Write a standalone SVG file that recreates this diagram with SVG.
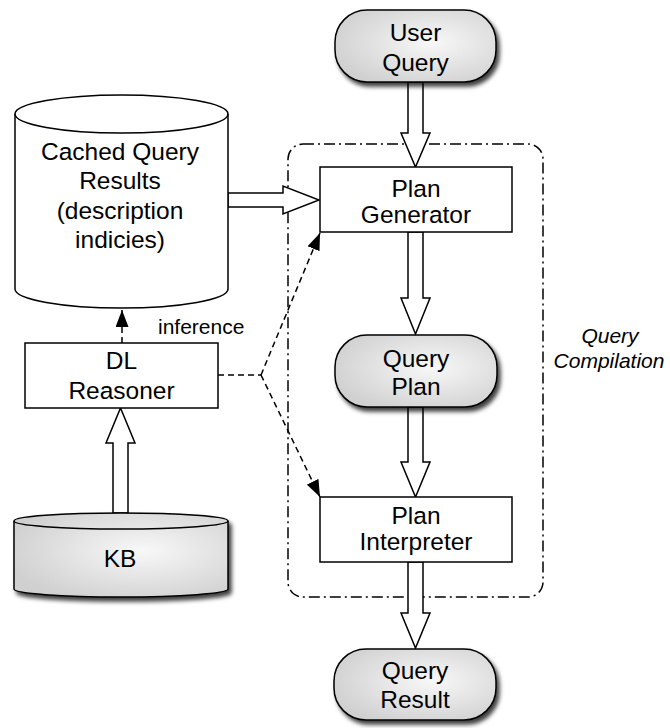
<svg xmlns="http://www.w3.org/2000/svg" width="670" height="728" viewBox="0 0 670 728">
  <defs>
    <radialGradient id="greyFill" cx="0.6" cy="0.45" r="0.65">
      <stop offset="0" stop-color="#f8f8f8"/>
      <stop offset="1" stop-color="#d0d0d0"/>
    </radialGradient>
    <filter id="dropShadow" x="-10%" y="-10%" width="125%" height="135%">
      <feGaussianBlur in="SourceAlpha" stdDeviation="2.2"/>
      <feOffset dx="3" dy="4" result="blur"/>
      <feFlood flood-color="#000" flood-opacity="0.75"/>
      <feComposite in2="blur" operator="in"/>
      <feMerge>
        <feMergeNode/>
        <feMergeNode in="SourceGraphic"/>
      </feMerge>
    </filter>
    <marker id="solidHead" markerUnits="userSpaceOnUse" markerWidth="17" markerHeight="13" viewBox="0 0 17 13" refX="17" refY="6.5" orient="auto">
      <path d="M0,0 L17,6.5 L0,13 Z" fill="#000"/>
    </marker>
  </defs>
  <style>
    .shape { stroke: #000; stroke-width: 1.5; }
    .box { fill: #fff; stroke: #000; stroke-width: 1.5; }
    .terminal { fill: url(#greyFill); stroke: #000; stroke-width: 1.5; filter: url(#dropShadow); }
    .hollow { fill: #fff; stroke: #000; stroke-width: 1.5; stroke-linejoin: miter; }
    .dashed { fill: none; stroke: #000; stroke-width: 1.5; stroke-dasharray: 6 4; }
    .group { fill: none; stroke: #000; stroke-width: 1.5; stroke-dasharray: 11 4 2 4; }
    .label { font-family: "Liberation Sans", Arial, sans-serif; font-size: 24.5px; fill: #000; text-anchor: middle; }
    .small { font-family: "Liberation Sans", Arial, sans-serif; font-size: 21px; fill: #000; }
    .italic { font-style: italic; text-anchor: middle; }
  </style>

  <!-- compilation boundary -->
  <g id="query-compilation">
    <rect class="group" x="288" y="144" width="255" height="453" rx="15"/>
    <text class="small italic" x="610" y="343">Query</text>
    <text class="small italic" x="609" y="368">Compilation</text>
  </g>

  <!-- connectors -->
  <g id="connectors">
    <!-- User Query to Plan Generator -->
    <path class="hollow" d="M408,82 L423,82 L423,133 L430,133 L415.5,167 L401,133 L408,133 Z"/>
    <!-- Plan Generator to Query Plan -->
    <path class="hollow" d="M408,232 L423,232 L423,298 L430,298 L415.5,334 L401,298 L408,298 Z"/>
    <!-- Query Plan to Plan Interpreter -->
    <path class="hollow" d="M408,407 L423,407 L423,462 L430,462 L415.5,497 L401,462 L408,462 Z"/>
    <!-- Plan Interpreter to Query Result -->
    <path class="hollow" d="M408,562 L423,562 L423,613 L430,613 L415.5,648 L401,613 L408,613 Z"/>
    <!-- Cached Query Results to Plan Generator -->
    <path class="hollow" d="M228,193 L283,193 L283,186 L319,200 L283,214 L283,207 L228,207 Z"/>
    <!-- KB to DL Reasoner -->
    <path class="hollow" d="M113,513 L113,443 L106,443 L120.5,408 L135,443 L128,443 L128,513 Z"/>
    <!-- inference -->
    <line class="dashed" x1="122" y1="343" x2="122" y2="310" marker-end="url(#solidHead)"/>
    <text class="small" x="158" y="334">inference</text>
    <!-- DL Reasoner to plan stages -->
    <path class="dashed" d="M218,375 L261,375"/>
    <path class="dashed" d="M261,375 L320,233" marker-end="url(#solidHead)"/>
    <path class="dashed" d="M261,375 L320,497" marker-end="url(#solidHead)"/>
  </g>

  <g id="user-query">
    <rect class="terminal" x="335" y="10" width="161" height="72" rx="32"/>
    <text class="label" x="415.5" y="41">User</text>
    <text class="label" x="415.5" y="71">Query</text>
  </g>

  <g id="plan-generator">
    <rect class="box" x="320" y="167" width="192" height="65"/>
    <text class="label" x="416" y="197">Plan</text>
    <text class="label" x="416" y="223">Generator</text>
  </g>

  <g id="query-plan">
    <rect class="terminal" x="335" y="335" width="162" height="72" rx="32"/>
    <text class="label" x="416" y="367">Query</text>
    <text class="label" x="416" y="395">Plan</text>
  </g>

  <g id="plan-interpreter">
    <rect class="box" x="320" y="497" width="192" height="65"/>
    <text class="label" x="416" y="524">Plan</text>
    <text class="label" x="416" y="550">Interpreter</text>
  </g>

  <g id="query-result">
    <rect class="terminal" x="334" y="649" width="162" height="71" rx="32"/>
    <text class="label" x="415" y="679">Query</text>
    <text class="label" x="415" y="708">Result</text>
  </g>

  <g id="cached-query-results">
    <path class="box" d="M15,114 L15,289 A106.5,19 0 0 0 228,289 L228,114 A106.5,19 0 0 0 15,114 Z"/>
    <path class="shape" fill="none" d="M15,114 A106.5,19 0 0 0 228,114"/>
    <text class="label" x="120" y="160">Cached Query</text>
    <text class="label" x="120" y="189">Results</text>
    <text class="label" x="120" y="219">(description</text>
    <text class="label" x="120" y="248">indicies)</text>
  </g>

  <g id="dl-reasoner">
    <rect class="box" x="25" y="343" width="193" height="65"/>
    <text class="label" x="121.5" y="369">DL</text>
    <text class="label" x="121.5" y="399">Reasoner</text>
  </g>

  <g id="kb">
    <path class="terminal" d="M14,521 L14,589 A107,8 0 0 0 228,589 L228,521 A107,8 0 0 0 14,521 Z"/>
    <path class="shape" fill="none" d="M14,521 A107,8 0 0 0 228,521"/>
    <text class="label" x="120" y="567">KB</text>
  </g>
</svg>
